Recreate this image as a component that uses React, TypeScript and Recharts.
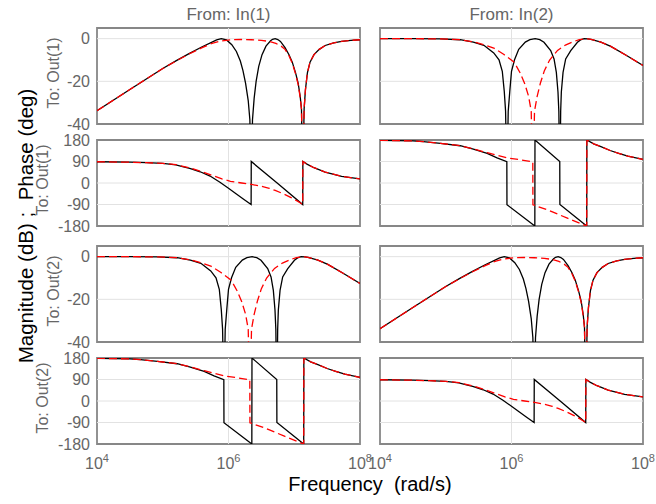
import React from "react";
import {
  LineChart, Line, XAxis, YAxis, ReferenceArea, ReferenceLine,
} from "recharts";

// x values are log10(frequency in rad/s); y is dB or degrees
type Pt = [number, number];

const inputs = ["In(1)", "In(2)"];
const outputs = ["Out(1)", "Out(2)"];
const freqTicks = [4, 6, 8];
const magTicks = [-40, -20, 0];
const phaseTicks = [-180, -90, 0, 90, 180];

// diagonal channels (In1->Out1, In2->Out2)
const magDiagSolid: Pt[] = [
  [4.0, -33.8], [4.5, -23.8], [5.0, -14.0], [5.2, -10.4], [5.4, -7.0], [5.6, -3.8],
  [5.75, -1.6], [5.82, -0.6], [5.89, 0], [5.97, -0.6], [6.05, -2.8], [6.12, -6.0],
  [6.18, -10.5], [6.22, -15], [6.26, -21], [6.3, -29], [6.325, -38], [6.345, -70],
  [6.365, -38], [6.39, -28], [6.42, -20], [6.46, -13], [6.51, -7.5], [6.57, -3.5],
  [6.64, -1], [6.67, -0.3], [6.71, 0], [6.75, -0.4], [6.79, -1.3], [6.86, -4.2],
  [6.92, -7.5], [6.97, -11], [7.02, -16], [7.06, -21], [7.09, -27], [7.11, -33],
  [7.13, -70], [7.15, -33], [7.17, -24], [7.2, -16], [7.24, -11], [7.3, -7.5],
  [7.38, -5], [7.47, -3.2], [7.6, -2], [7.72, -1.3], [7.86, -0.8], [8.0, -0.5],
];
const magDiagDashed: Pt[] = [
  [4.0, -33.8], [4.5, -23.8], [5.0, -14.0], [5.2, -10.5], [5.4, -7.2], [5.6, -4.2],
  [5.75, -2.2], [5.9, -1.0], [6.05, -0.5], [6.2, -0.4], [6.35, -0.5], [6.5, -0.8],
  [6.62, -1.3], [6.72, -2.2], [6.8, -3.5], [6.86, -5], [6.92, -8], [6.97, -11.5],
  [7.02, -16.5], [7.06, -21.5], [7.09, -27.5], [7.11, -33], [7.13, -70], [7.15, -33],
  [7.17, -24], [7.2, -16], [7.24, -11], [7.3, -7.5], [7.38, -5], [7.47, -3.2],
  [7.6, -2], [7.72, -1.3], [7.86, -0.8], [8.0, -0.5],
];
const phaseDiagSolid: Pt[] = [
  [4.0, 89], [4.5, 87], [4.75, 85], [5.0, 82], [5.2, 76], [5.3, 69], [5.41, 61],
  [5.57, 47], [5.72, 29], [5.87, 3], [6.0, -22], [6.12, -46], [6.23, -68],
  [6.344, -90], [6.346, 90], [6.74, 0], [7.129, -90], [7.131, 90], [7.2, 78],
  [7.3, 64], [7.47, 46], [7.72, 28], [8.0, 17],
];
const phaseDiagDashed: Pt[] = [
  [4.0, 89], [4.5, 87], [4.75, 85], [5.0, 82], [5.2, 77], [5.41, 63], [5.57, 50],
  [5.75, 32], [5.9, 17], [6.03, 7], [6.2, 0], [6.35, -6], [6.5, -14], [6.62, -22],
  [6.71, -31], [6.85, -47], [6.96, -62], [7.05, -76], [7.129, -90], [7.131, 90],
  [7.2, 78], [7.3, 64], [7.47, 46], [7.72, 28], [8.0, 17],
];

// cross channels (In2->Out1, In1->Out2)
const magCrossSolid: Pt[] = [
  [4.0, 0], [4.5, 0], [4.92, -0.1], [5.22, -0.5], [5.42, -1.6], [5.58, -3.1],
  [5.73, -6.7], [5.81, -9.9], [5.86, -15.3], [5.89, -24.7], [5.91, -34], [5.93, -70],
  [5.95, -34], [5.974, -24.7], [6.0, -15.3], [6.046, -9.9], [6.11, -5], [6.21, -1.6],
  [6.28, -0.5], [6.36, 0], [6.43, -0.5], [6.494, -1.7], [6.596, -5.6], [6.647, -9.5],
  [6.682, -15.8], [6.707, -25], [6.72, -34], [6.735, -70], [6.748, -34], [6.758, -25],
  [6.784, -15.8], [6.824, -9.5], [6.901, -5.6], [7.003, -1.7], [7.05, -0.6],
  [7.105, 0], [7.16, -0.1], [7.21, -0.3], [7.36, -1.6], [7.51, -3.6], [7.75, -7.9],
  [8.0, -12.6],
];
const magCrossDashed: Pt[] = [
  [4.0, 0], [4.5, 0], [4.92, -0.1], [5.22, -0.5], [5.42, -1.5], [5.58, -2.8],
  [5.73, -4.4], [5.88, -7.3], [6.04, -11], [6.13, -16], [6.2, -21], [6.26, -27],
  [6.3, -34], [6.325, -70], [6.35, -34], [6.39, -27], [6.44, -20.8], [6.5, -15],
  [6.58, -10], [6.7, -5.5], [6.82, -3], [6.95, -1.3], [7.03, -0.5], [7.105, -0.1],
  [7.16, -0.1], [7.21, -0.3], [7.36, -1.6], [7.51, -3.6], [7.75, -7.9], [8.0, -12.6],
];
const phaseCrossSolid: Pt[] = [
  [4.0, 179], [4.5, 176], [4.66, 173], [4.92, 166], [5.22, 156], [5.42, 142],
  [5.63, 124], [5.78, 105], [5.929, 89], [5.931, -91], [6.355, -180], [6.357, 180],
  [6.734, 90], [6.736, -90], [7.144, -180], [7.146, 180], [7.25, 164], [7.36, 152],
  [7.5, 136], [7.63, 124], [7.77, 112], [8.0, 99],
];
const phaseCrossDashed: Pt[] = [
  [4.0, 179], [4.5, 176], [4.66, 173], [4.92, 166], [5.22, 156], [5.42, 143],
  [5.63, 127], [5.8, 115], [5.95, 104], [6.14, 97], [6.324, 89], [6.326, -91],
  [6.55, -113], [6.85, -147], [7.144, -180], [7.146, 180], [7.25, 164], [7.36, 152],
  [7.5, 136], [7.63, 124], [7.77, 112], [8.0, 99],
];

const FONT = "'Liberation Sans', Arial, Helvetica, sans-serif";
const GRAY = "#666666";
const FRAME = "#878787";
const GRID = "#e2e2e2";

const cols = [{ x: 97, w: 263 }, { x: 380, w: 263 }];
const rows = [
  { y: 28, h: 96, phase: false, out: 0 },
  { y: 140, h: 86, phase: true, out: 0 },
  { y: 246, h: 96, phase: false, out: 1 },
  { y: 358, h: 86, phase: true, out: 1 },
];

const toRows = (pts: Pt[]) => pts.map(([f, v]) => ({ f, v }));

const FreqTick = ({ x, y, payload }: any) => (
  <text x={x} y={y} dy={17} textAnchor="middle" fill={GRAY} fontSize={16} fontFamily={FONT}>
    <tspan>10</tspan>
    <tspan dy={-7} fontSize={11}>{payload.value}</tspan>
  </text>
);

function Panel({ col, row, ci, ri }: any) {
  const diag = row.out === ci;
  const solid = row.phase
    ? (diag ? phaseDiagSolid : phaseCrossSolid)
    : (diag ? magDiagSolid : magCrossSolid);
  const dashed = row.phase
    ? (diag ? phaseDiagDashed : phaseCrossDashed)
    : (diag ? magDiagDashed : magCrossDashed);
  const domain: [number, number] = row.phase ? [-180, 180] : [-40, 5];
  const yTicks = row.phase ? phaseTicks : magTicks;
  const bottom = ri === rows.length - 1;
  const mt = 10;

  return (
    <div style={{ position: "absolute", left: col.x - 50, top: row.y - mt }}>
      <LineChart
        width={col.w + 70}
        height={bottom ? row.h + mt + 40 : row.h + 2 * mt}
        margin={{ top: mt, right: 20, left: 0, bottom: bottom ? 0 : mt }}
      >
        <XAxis
          type="number"
          dataKey="f"
          domain={[4, 8]}
          ticks={freqTicks}
          interval={0}
          allowDataOverflow
          hide={!bottom}
          height={40}
          tickLine={false}
          axisLine={false}
          tick={<FreqTick />}
        />
        <YAxis
          type="number"
          domain={domain}
          ticks={yTicks}
          interval={0}
          allowDataOverflow
          width={50}
          tickLine={false}
          axisLine={false}
          tickSize={5}
          tickMargin={2}
          tick={ci === 0 ? { fill: GRAY, fontSize: 16, fontFamily: FONT } : false}
        />
        {yTicks.filter((t) => t > domain[0] && t < domain[1]).map((t) => (
          <ReferenceLine key={`h${t}`} y={t} stroke={GRID} strokeWidth={1} />
        ))}
        {freqTicks.filter((t) => t > 4 && t < 8).map((t) => (
          <ReferenceLine key={`v${t}`} x={t} stroke={GRID} strokeWidth={1} />
        ))}
        <ReferenceArea
          x1={4} x2={8} y1={domain[0]} y2={domain[1]}
          fill="none" fillOpacity={0} stroke={FRAME} strokeWidth={1.8}
        />
        <Line
          data={toRows(solid)} dataKey="v" type="linear"
          stroke="#000000" strokeWidth={1.3} dot={false} isAnimationActive={false}
        />
        <Line
          data={toRows(dashed)} dataKey="v" type="linear"
          stroke="#ff0000" strokeWidth={1.3} strokeDasharray="8 4"
          dot={false} isAnimationActive={false}
        />
      </LineChart>
    </div>
  );
}

export default function App() {
  return (
    <div style={{
      position: "fixed", left: 0, top: 0, width: 656, height: 504,
      background: "#fff", fontFamily: FONT, overflow: "hidden",
    }}>
      <svg width={656} height={504} style={{ position: "absolute", left: 0, top: 0 }}>
        {inputs.map((name, i) => (
          <text key={name} x={cols[i].x + cols[i].w / 2} y={20} textAnchor="middle"
            fill={GRAY} fontSize={17} fontFamily={FONT}>
            From: {name}
          </text>
        ))}
        {rows.map((r, i) => {
          const lx = r.phase ? 48 : 59;
          const ly = r.y + r.h / 2 - 3;
          return (
            <text key={i} transform={`translate(${lx},${ly}) rotate(-90)`} textAnchor="middle"
              fill={GRAY} fontSize={16} fontFamily={FONT}>
              To: {outputs[r.out]}
            </text>
          );
        })}
        <text transform="translate(33,226) rotate(-90)" textAnchor="middle"
          fill="#000" fontSize={20.5} fontFamily={FONT} style={{ whiteSpace: "pre" }}>
          Magnitude (dB) ;  Phase (deg)
        </text>
        <text x={370} y={491} textAnchor="middle" fill="#000" fontSize={20}
          fontFamily={FONT} style={{ whiteSpace: "pre" }}>
          Frequency  (rad/s)
        </text>
      </svg>
      {rows.map((row, ri) =>
        cols.map((col, ci) => (
          <Panel key={`${ri}-${ci}`} row={row} col={col} ri={ri} ci={ci} />
        ))
      )}
    </div>
  );
}
